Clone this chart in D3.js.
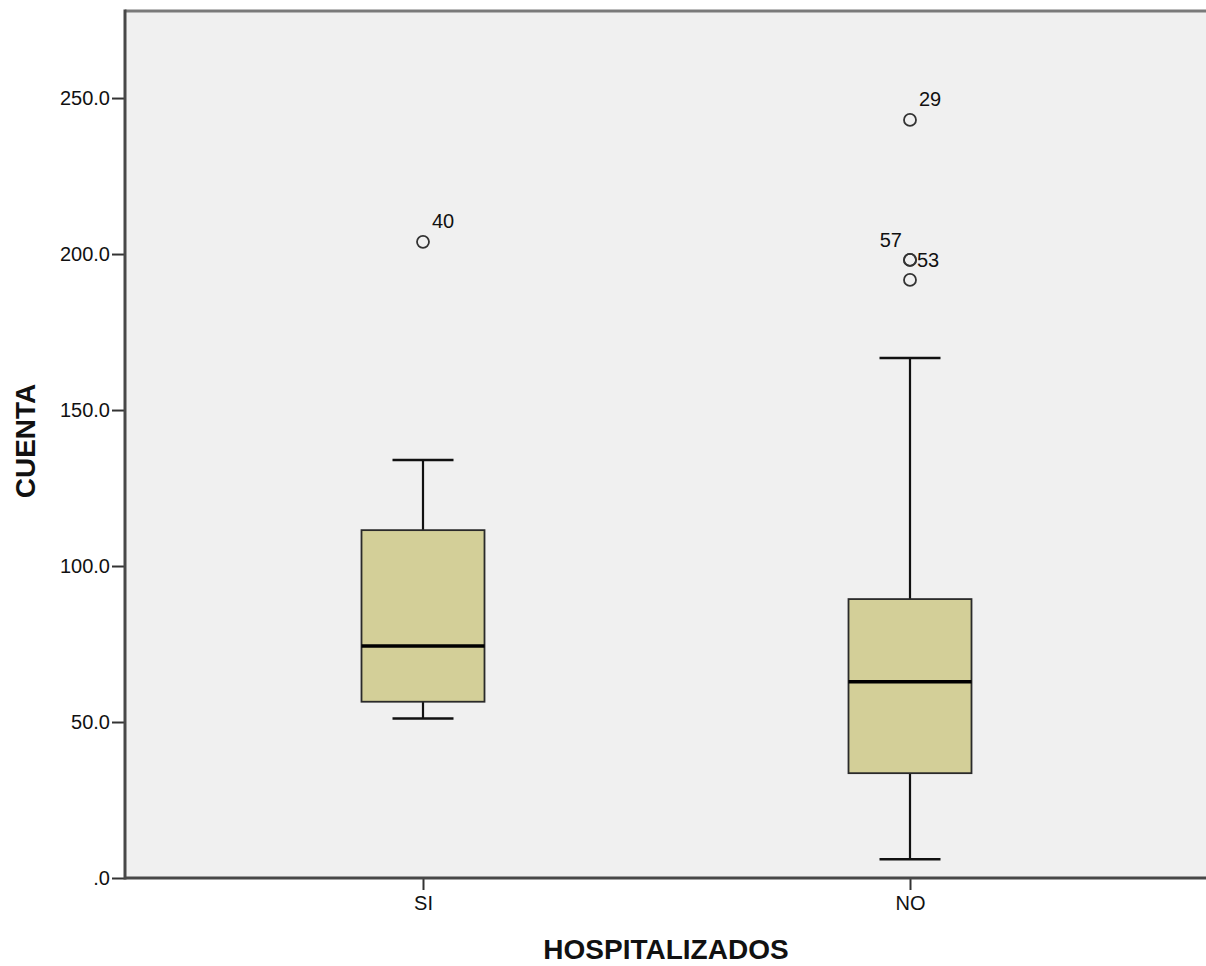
<!DOCTYPE html>
<html>
<head>
<meta charset="utf-8">
<script src="https://cdn.jsdelivr.net/npm/d3@7"></script>
<style>
html,body{margin:0;padding:0;background:#fff;}
svg{display:block;font-family:"Liberation Sans",Arial,sans-serif;}
</style>
</head>
<body>
<svg id="chart" width="1206" height="966"></svg>
<script>
const categories = ["SI", "NO"];
const q1 = [56.5, 33.6];
const median = [74.4, 62.9];
const q3 = [111.5, 89.4];
const whiskerLow = [51.1, 6.0];
const whiskerHigh = [134.0, 166.7];
const outliers = [
  {cat: "SI", value: 203.9, id: "40"},
  {cat: "NO", value: 243.0, id: "29"},
  {cat: "NO", value: 198.1, id: "53"},
  {cat: "NO", value: 198.1, id: "57"},
  {cat: "NO", value: 191.7, id: ""}
];
const yTicks = [0, 50, 100, 150, 200, 250];
const xTitle = "HOSPITALIZADOS";
const yTitle = "CUENTA";

(function () {
const svg = d3.select("#chart");
const mLeft = 125, mRight = 1206, mTop = 11, mBottom = 878;
const FONT = "Liberation Sans, Arial, sans-serif";

const y = d3.scaleLinear().domain([0, 277.9]).range([mBottom, mTop]);
const x = d3.scalePoint().domain(categories).range([423, 910]);

svg.append("rect").attr("x", mLeft).attr("y", mTop).attr("width", mRight - mLeft).attr("height", mBottom - mTop).attr("fill", "#f0f0f0");
svg.append("line").attr("x1", mLeft).attr("x2", mRight).attr("y1", mTop).attr("y2", mTop).attr("stroke", "#7a7a7a").attr("stroke-width", 3);

const boxW = 123, capW = 61;
const data = categories.map((c, i) => ({c, q1: q1[i], med: median[i], q3: q3[i], lo: whiskerLow[i], hi: whiskerHigh[i]}));
const g = svg.append("g");
data.forEach(d => {
  const cx = x(d.c);
  g.append("line").attr("x1", cx).attr("x2", cx).attr("y1", y(d.q3)).attr("y2", y(d.hi)).attr("stroke", "#111").attr("stroke-width", 2.2);
  g.append("line").attr("x1", cx).attr("x2", cx).attr("y1", y(d.q1)).attr("y2", y(d.lo)).attr("stroke", "#111").attr("stroke-width", 2.2);
  g.append("line").attr("x1", cx - capW/2).attr("x2", cx + capW/2).attr("y1", y(d.hi)).attr("y2", y(d.hi)).attr("stroke", "#111").attr("stroke-width", 2.5);
  g.append("line").attr("x1", cx - capW/2).attr("x2", cx + capW/2).attr("y1", y(d.lo)).attr("y2", y(d.lo)).attr("stroke", "#111").attr("stroke-width", 2.5);
  g.append("rect").attr("x", cx - boxW/2).attr("y", y(d.q3)).attr("width", boxW).attr("height", y(d.q1) - y(d.q3))
    .attr("fill", "#d3cf98").attr("stroke", "#2a2a2a").attr("stroke-width", 1.8);
  g.append("line").attr("x1", cx - boxW/2).attr("x2", cx + boxW/2).attr("y1", y(d.med)).attr("y2", y(d.med)).attr("stroke", "#000").attr("stroke-width", 3.5);
});

const labelPlacement = {"40": "ur", "29": "ur", "53": "r", "57": "ul"};
outliers.forEach(o => {
  const cx = x(o.cat), cy = y(o.value);
  g.append("circle").attr("cx", cx).attr("cy", cy).attr("r", 6).attr("fill", "none").attr("stroke", "#333").attr("stroke-width", 1.8);
  if (o.id) {
    const p = labelPlacement[o.id] || "ur";
    const t = g.append("text").text(o.id).attr("font-size", 20).attr("fill", "#111").attr("font-family", FONT);
    if (p === "ur") t.attr("x", cx + 9).attr("y", cy - 14);
    else if (p === "r") t.attr("x", cx + 7).attr("y", cy + 7);
    else t.attr("x", cx - 8).attr("y", cy - 13).attr("text-anchor", "end");
  }
});

const yAxis = d3.axisLeft(y).tickValues(yTicks).tickSize(13).tickFormat(d => d === 0 ? ".0" : d.toFixed(1));
const ya = svg.append("g").attr("transform", `translate(${mLeft},0)`).call(yAxis);
ya.select(".domain").remove();
ya.selectAll(".tick line").attr("stroke", "#333").attr("stroke-width", 2);
ya.selectAll(".tick text").attr("font-size", 20).attr("fill", "#111").attr("x", -15).attr("font-family", FONT);

const xAxis = d3.axisBottom(x).tickSize(12).tickPadding(6);
const xa = svg.append("g").attr("transform", `translate(0,${mBottom})`).call(xAxis);
xa.select(".domain").remove();
xa.selectAll(".tick line").attr("stroke", "#333").attr("stroke-width", 2);
xa.selectAll(".tick text").attr("font-size", 20).attr("fill", "#111").attr("font-family", FONT);

svg.append("line").attr("x1", mLeft).attr("x2", mLeft).attr("y1", mTop - 1.5).attr("y2", mBottom + 1.5).attr("stroke", "#484848").attr("stroke-width", 3);
svg.append("line").attr("x1", mLeft).attr("x2", mRight).attr("y1", mBottom).attr("y2", mBottom).attr("stroke", "#484848").attr("stroke-width", 3);

svg.append("text").text(xTitle).attr("x", 666).attr("y", 959).attr("text-anchor", "middle")
  .attr("font-size", 28).attr("font-weight", "bold").attr("fill", "#111").attr("font-family", FONT);
svg.append("text").text(yTitle).attr("transform", "translate(35,441) rotate(-90)").attr("text-anchor", "middle")
  .attr("font-size", 28).attr("font-weight", "bold").attr("fill", "#111").attr("font-family", FONT);
})();
</script>
</body>
</html>
